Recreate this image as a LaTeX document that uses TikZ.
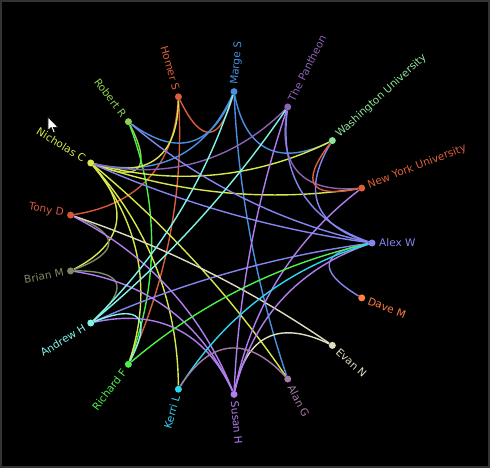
\documentclass[tikz,border=0pt]{standalone}
\usepackage{fontspec}
\setmainfont{DejaVu Sans}
\usetikzlibrary{calc}
\pgfdeclarelayer{back}
\pgfdeclarelayer{edges}
\pgfsetlayers{back,edges,main}
\definecolor{cAlex}{HTML}{8585F0}
\definecolor{cNYU}{HTML}{DD5F3A}
\definecolor{cWash}{HTML}{8FE39A}
\definecolor{cPan}{HTML}{8B62B5}
\definecolor{cMarge}{HTML}{4A90E2}
\definecolor{cHomer}{HTML}{D95F3B}
\definecolor{cRobert}{HTML}{8ED14F}
\definecolor{cNich}{HTML}{D8E84A}
\definecolor{cTony}{HTML}{D4583A}
\definecolor{cBrian}{HTML}{7D8B63}
\definecolor{cAndrew}{HTML}{80F4E8}
\definecolor{cRichard}{HTML}{4DF04A}
\definecolor{cKerri}{HTML}{2FD4F2}
\definecolor{cSusan}{HTML}{B07EF0}
\definecolor{cAlan}{HTML}{A67AA8}
\definecolor{cEvan}{HTML}{E0DCC0}
\definecolor{cDave}{HTML}{FF7F3F}
\tikzset{
  dot/.style={circle, inner sep=0pt, minimum size=7bp},
  lbl/.style={inner sep=0pt, font=\fontsize{10.5bp}{12bp}\selectfont},
  e/.style={line width=1.4bp,
    to path={.. controls ($.5*(\tikztostart)+.1667*(\tikztotarget)$) and ($.1667*(\tikztostart)+.5*(\tikztotarget)$) .. (\tikztotarget)}},
}
\newcommand\rperson[4]{%
  \node[dot, fill=#3] (#1) at ({#2*360/17}:152) {};
  \node[lbl, text=#3, anchor=west, rotate={#2*360/17}] (#1-l) at ({#2*360/17}:159) {#4};}
\newcommand\lperson[4]{%
  \node[dot, fill=#3] (#1) at ({#2*360/17}:152) {};
  \node[lbl, text=#3, anchor=east, rotate={#2*360/17-180}] (#1-l) at ({#2*360/17}:159) {#4};}
\begin{document}
\begin{tikzpicture}[x=1bp, y=1bp]
\useasboundingbox (-220,-225) rectangle (270,243);
\begin{pgfonlayer}{back}
  \fill[black] (-220,-225) rectangle (270,243);
  \draw[line width=2bp, black!80!white] (-219,-224) rectangle (269,242);
\end{pgfonlayer}
\rperson{alex}{0}{cAlex}{Alex W}
\rperson{nyu}{1}{cNYU}{New York University}
\rperson{wash}{2}{cWash}{Washington University}
\rperson{pan}{3}{cPan}{The Pantheon}
\rperson{marge}{4}{cMarge}{Marge S}
\lperson{homer}{5}{cHomer}{Homer S}
\lperson{robert}{6}{cRobert}{Robert R}
\lperson{nich}{7}{cNich}{Nicholas C}
\lperson{tony}{8}{cTony}{Tony D}
\lperson{brian}{9}{cBrian}{Brian M}
\lperson{andrew}{10}{cAndrew}{Andrew H}
\lperson{richard}{11}{cRichard}{Richard F}
\lperson{kerri}{12}{cKerri}{Kerri L}
\rperson{susan}{13}{cSusan}{Susan H}
\rperson{alan}{14}{cAlan}{Alan G}
\rperson{evan}{15}{cEvan}{Evan N}
\rperson{dave}{16}{cDave}{Dave M}
\begin{pgfonlayer}{edges}
  \draw[e, cHomer] (homer) to (marge);
  \draw[e, cHomer] (homer) to (richard);
  \draw[e, cTony] (tony) to (homer);
  \draw[e, cMarge] (marge) to (robert);
  \draw[e, cMarge] (marge) to (nich);
  \draw[e, cMarge] (marge) to (wash);
  \draw[e, cMarge] (marge) to (alan);
  \draw[e, cRobert] (robert) to (nich);
  \draw[e, cRichard] (richard) to (robert);
  \draw[e, cNich] (nich) to (homer);
  \draw[e, cNich] (nich) to (wash);
  \draw[e, cNich] (nich) to (nyu);
  \draw[e, cNich] (nich) to (brian);
  \draw[e, cNich] (nich) to (richard);
  \draw[e, cNich] (nich) to (kerri);
  \draw[e, cNich] (nich) to (alan);
  \draw[e, cPan] (pan) to (nich);
  \draw[e, cPan] (pan) to (nyu);
  \draw[e, cAlex] (alex) to (nich);
  \draw[e, cAlex] (alex) to (robert);
  \draw[e, cAlex] (alex) to (andrew);
  \draw[e, cAlex] (alex) to (pan);
  \draw[e, cAlex] (alex) to (wash);
  \draw[e, cAlex] (alex) to (dave);
  \draw[e, cBrian] (brian) to (tony);
  \draw[e, cBrian] (brian) to (andrew);
  \draw[e, cEvan] (evan) to (tony);
  \draw[e, cEvan] (evan) to (susan);
  \draw[e, cSusan] (susan) to (tony);
  \draw[e, cSusan] (susan) to (brian);
  \draw[e, cSusan] (susan) to (andrew);
  \draw[e, cSusan] (susan) to (pan);
  \draw[e, cSusan] (susan) to (nyu);
  \draw[e, cSusan] (susan) to (alex);
  \draw[e, cAndrew] (andrew) to (marge);
  \draw[e, cAndrew] (andrew) to (pan);
  \draw[e, cAndrew] (andrew) to (richard);
  \draw[e, cRichard] (richard) to (alex);
  \draw[e, cKerri] (kerri) to (alex);
  \draw[e, cAlan] (alan) to (kerri);
  \draw[e, cNYU] (nyu) to (wash);
\end{pgfonlayer}
% mouse cursor
\draw[fill=white, draw=black, line width=0.6bp, line join=round]
  (-172,126) -- ++(0,-13.6) -- ++(3.2,3.2) -- ++(2.4,-5.6) -- ++(1.6,0.8)
  -- ++(-2,4.8) -- ++(4.8,0) -- cycle;
\end{tikzpicture}
\end{document}
